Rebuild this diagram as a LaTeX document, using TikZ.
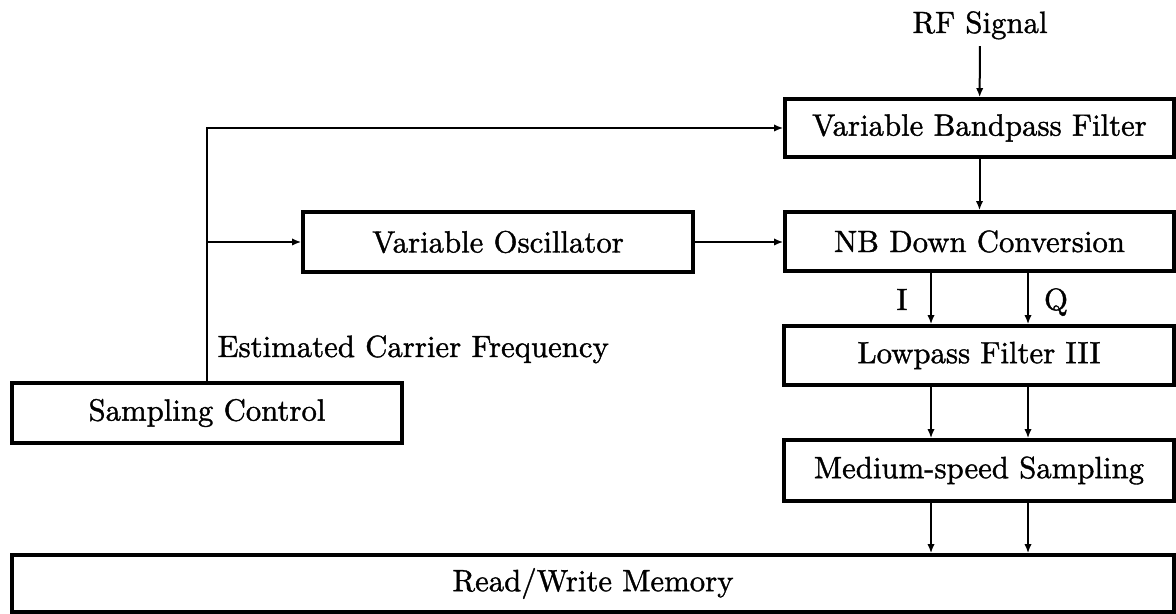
\documentclass[tikz,border=0pt]{standalone}
\usepackage{fontspec}
% slightly heavier strokes for all labels
\setmainfont{lmroman10-regular.otf}[FakeBold=1.2]
\usetikzlibrary{arrows.meta}
% one drawing unit = one pixel of the layout grid
\newcommand\pxs{0.325pt}
\begin{document}
\begin{tikzpicture}[x=\pxs,y=-\pxs,
  block/.style={draw, line width=1.1pt, inner sep=0pt, anchor=center},
  lbl/.style={inner sep=0pt},
  arr/.style={line width=0.65pt, -{Latex[length=3pt,width=2.4pt]}}]
\useasboundingbox (0,0) rectangle (1176,614);

% processing blocks
\node[block, minimum width={389*\pxs}, minimum height={58*\pxs}] (vbf) at (979.5,128) {Variable Bandpass Filter};
\node[block, minimum width={389*\pxs}, minimum height={59*\pxs}] (nb) at (979.5,241.5) {NB Down Conversion};
\node[block, minimum width={390*\pxs}, minimum height={60*\pxs}] (vo) at (498,242) {Variable Oscillator};
\node[block, minimum width={390*\pxs}, minimum height={59*\pxs}] (lpf) at (979,355.5) {Lowpass Filter III};
\node[block, minimum width={390*\pxs}, minimum height={61*\pxs}] (mss) at (979,470.5) {Medium-speed Sampling};
\node[block, minimum width={390*\pxs}, minimum height={60*\pxs}] (sc) at (207,413) {Sampling Control};
\node[block, minimum width={1162*\pxs}, minimum height={57*\pxs}] (rwm) at (593,583.5) {Read/Write Memory};

% input and labels
\node[inner sep=2pt, anchor=base] (rf) at (980,33) {RF Signal};
\node[lbl, anchor=base west] (ecf) at (217,357) {Estimated Carrier Frequency};
\node[lbl, anchor=base] (ilab) at (902,310) {I};
\node[lbl, anchor=base] (qlab) at (1056,310) {Q};

% I and Q channel columns
\coordinate (ix) at (931,0);
\coordinate (qx) at (1028,0);

% signal path
\draw[arr] (rf) -- (vbf);
\draw[arr] (vbf) -- (nb);
\draw[arr] (vo.east) -- (vo.east -| nb.west);
\foreach \c in {ix,qx}{
  \draw[arr] (nb.south -| \c) -- (lpf.north -| \c);
  \draw[arr] (lpf.south -| \c) -- (mss.north -| \c);
  \draw[arr] (mss.south -| \c) -- (rwm.north -| \c);
}

% control path from the sampling control
\draw[arr] (sc.north) |- (vbf.west);
\draw[arr] (sc.north |- vo.west) -- (vo.west);
\end{tikzpicture}
\end{document}
